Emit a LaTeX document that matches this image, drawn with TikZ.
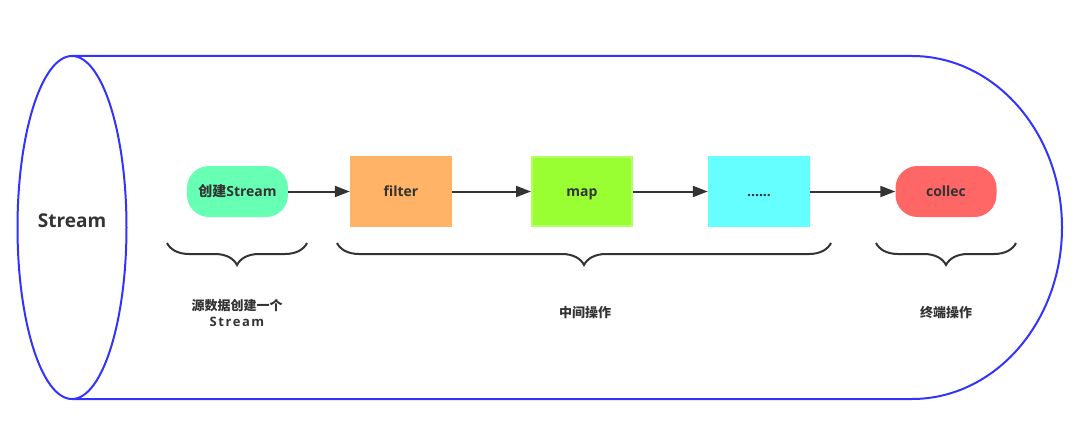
\documentclass[tikz,border=0pt]{standalone}
\usepackage{fontspec}
\setmainfont{Open Sans}
\newfontfamily\cjk{Noto Sans CJK SC}
\usetikzlibrary{shapes.geometric,arrows.meta,decorations.pathreplacing}
\definecolor{cylblue}{HTML}{3333FF}
\definecolor{ink}{HTML}{333333}
\definecolor{cgreen}{HTML}{66FFB3}
\definecolor{corange}{HTML}{FFB366}
\definecolor{clime}{HTML}{99FF33}
\definecolor{climeb}{HTML}{B3FF66}
\definecolor{ccyan}{HTML}{66FFFF}
\definecolor{cred}{HTML}{FF6666}
\tikzset{
  nodetext/.style={font=\bfseries\fontsize{14}{16}\selectfont, text=ink, text height=10pt, text depth=0pt},
  pill/.style={nodetext, rounded corners=22pt, minimum width=101pt, minimum height=51pt, inner sep=0pt},
  opbox/.style={nodetext, minimum width=102pt, minimum height=71pt, inner sep=0pt},
  flow/.style={draw=ink, line width=2pt, -{Triangle[length=15pt,width=11pt]}},
  bracepath/.style={draw=ink, line width=2pt, decorate, decoration={brace, amplitude=22pt}},
  caption/.style={font=\bfseries\fontsize{13}{16}\selectfont, text=ink, align=center},
}
\begin{document}
\begin{tikzpicture}[x=1pt,y=-1pt]
\useasboundingbox (0,0) rectangle (1090,436);
% cylinder body
\draw[cylblue, line width=2pt] (72,56) -- (912,56) arc[start angle=-90, end angle=90, x radius=150, y radius=171.5] -- (72,399);
\node[ellipse, draw=cylblue, line width=2pt, fill=white, minimum width=109pt, minimum height=343pt, inner sep=0pt, font=\bfseries\fontsize{19}{22}\selectfont, text=ink, text height=14pt, text depth=15pt] (stream) at (72,227.5) {Stream};
% nodes
\node[pill, fill=cgreen] (create) at (237.5,191.5) {{\cjk\bfseries 创建}Stream};
\node[opbox, fill=corange] (filter) at (401,191.5) {filter};
\node[opbox, fill=clime, draw=climeb, line width=2pt, minimum width=100pt, minimum height=69pt] (map) at (582,191.5) {map};
\node[opbox, fill=ccyan] (dots) at (759,191.5) {......};
\node[pill, fill=cred] (collec) at (946,191.5) {collec};
% arrows
\draw[flow] (create) -- (filter);
\draw[flow] (filter) -- (map);
\draw[flow] (map) -- (dots);
\draw[flow] (dots) -- (collec);
% braces
\coordinate (b1l) at (167,243); \coordinate (b1r) at (307,243);
\coordinate (b2l) at (337,243); \coordinate (b2r) at (831,243);
\coordinate (b3l) at (876,243); \coordinate (b3r) at (1016,243);
\draw[bracepath] (b1r) -- (b1l);
\draw[bracepath] (b2r) -- (b2l);
\draw[bracepath] (b3r) -- (b3l);
% captions
\node[caption] (cap1) at (237,313) {{\cjk\bfseries 源数据创建一个}\\{\addfontfeature{LetterSpace=12}Stream}};
\node[caption] (cap2) at (585,313) {{\cjk\bfseries 中间操作}};
\node[caption] (cap3) at (946,313) {{\cjk\bfseries 终端操作}};
\end{tikzpicture}
\end{document}
